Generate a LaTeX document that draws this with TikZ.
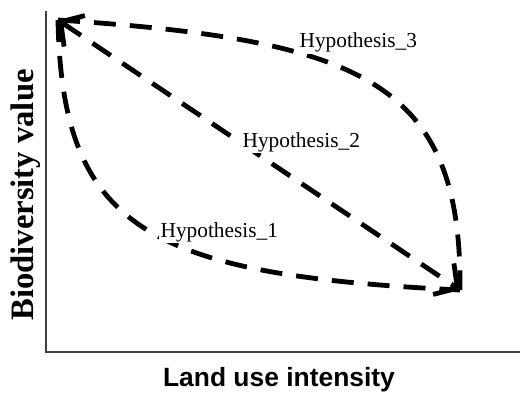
\documentclass[tikz,border=0pt]{standalone}
\usepackage{fontspec}
\setmainfont{Liberation Serif}
\newfontfamily\arialfont{Liberation Sans}
\usetikzlibrary{arrows.meta}
\tikzset{
    trend diagram/.style = {x=0.75pt, y=-0.75pt,
                            >={Straight Barb[length=12.5pt, width=28pt]}},
    axis/.style          = {draw=black!75, line width=1.1pt},
    trend/.style         = {line width=3.6pt, dash pattern=on 16.5pt off 10.5pt},
    hyp/.style           = {font=\fontsize{16}{18}\selectfont, fill=white,
                            inner sep=1pt, anchor=base west},
    ylab/.style          = {font=\fontsize{24.5}{28}\selectfont\bfseries,
                            rotate=90, anchor=base},
    xlab/.style          = {font=\arialfont\fontsize{19.8}{22}\selectfont\bfseries,
                            anchor=base}
}
\begin{document}
\begin{tikzpicture}[trend diagram]
\useasboundingbox (0,0) rectangle (520,392);

% Axes
\coordinate (ytop)   at (46,11);
\coordinate (origin) at (46,352);
\coordinate (xend)   at (520,352);
\draw[axis] (ytop) -- (origin) -- (xend);

% End points shared by the three hypotheses
\coordinate (high) at (58,20);
\coordinate (low)  at (460,290);

% Hypotheses: concave, linear, convex
\draw[trend] (high) .. controls (360,40) and (462,80) .. (low);
\draw[trend, <->] (high) -- (low);
\draw[trend] (high) .. controls (62,230) and (150,275) .. (low);

\node[hyp] (hyp3) at (298,48)  {Hypothesis\_3};
\node[hyp] (hyp2) at (241,147) {Hypothesis\_2};
\node[hyp] (hyp1) at (159,237) {Hypothesis\_1};

% Axis titles
\node[ylab] (ytitle) at (33.5,195) {Biodiversity value};
\node[xlab] (xtitle) at (279,386.5) {Land use intensity};

\end{tikzpicture}
\end{document}
